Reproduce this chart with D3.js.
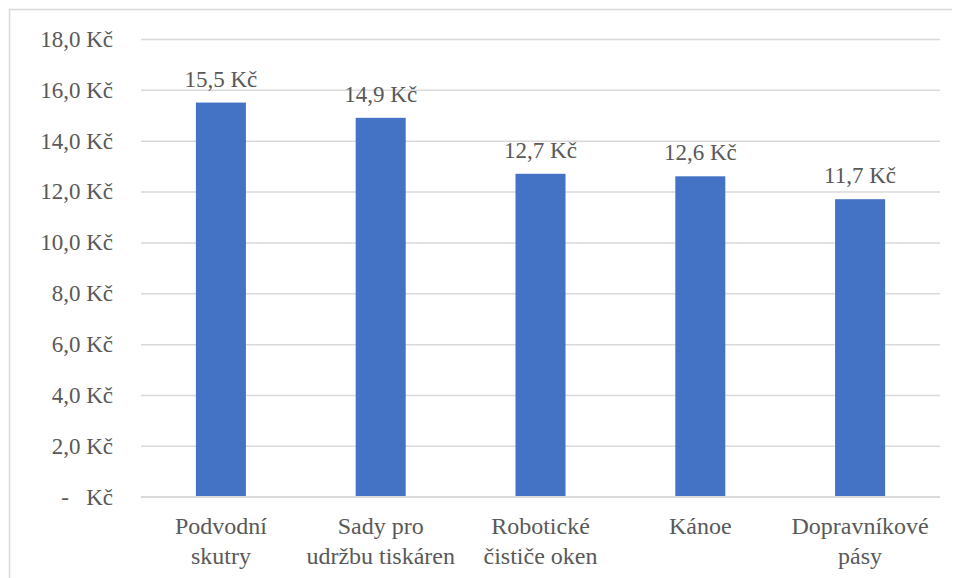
<!DOCTYPE html>
<html>
<head>
<meta charset="utf-8">
<style>
  html, body { margin: 0; padding: 0; background: #fff; }
  svg { display: block; }
  svg, svg text, svg tspan { font-family: 'Liberation Serif', 'Tinos', 'Times New Roman', serif !important; }
</style>
</head>
<body>
<svg id="chart" width="957" height="578" style="font-family:'Liberation Serif'"></svg>
<script src="https://cdn.jsdelivr.net/npm/d3@7"></script>
<script>
// Categories (each split into lines for the axis labels)
const categories = [
  ["Podvodní", "skutry"],
  ["Sady pro", "udržbu tiskáren"],
  ["Robotické", "čističe oken"],
  ["Kánoe"],
  ["Dopravníkové", "pásy"]
];
// Average price per category, in Kč
const values = [15.5, 14.9, 12.7, 12.6, 11.7];
// Y axis ticks
const yTicks = [0, 2, 4, 6, 8, 10, 12, 14, 16, 18];

const INK = "#595959";
const GRID = "#d9d9d9";
const SERIF = "font-family:'Liberation Serif'";

const svg = d3.select("#chart");
const W = 957, H = 578;
const margin = { left: 141, right: 17, top: 39, bottom: 81.3 };

// Chart area frame (top and left edges visible)
svg.append("path")
  .attr("d", `M9.5,${H} V9.5 H952`)
  .attr("fill", "none")
  .attr("stroke", GRID)
  .attr("stroke-width", 1.5);

const x = d3.scaleBand()
  .domain(d3.range(categories.length))
  .range([margin.left, W - margin.right])
  .paddingInner(0.687)
  .paddingOuter(0.3435);

const y = d3.scaleLinear()
  .domain([0, 18])
  .range([H - margin.bottom, margin.top]);

const fmt = v => v === 0 ? "-   Kč" : d3.format(".1f")(v).replace(".", ",") + " Kč";

// Gridlines and tick labels
const yAxis = d3.axisLeft(y)
  .tickValues(yTicks)
  .tickSize(-(W - margin.right - margin.left))
  .tickFormat(fmt)
  .tickPadding(28);

const gy = svg.append("g")
  .attr("transform", `translate(${margin.left},0)`)
  .call(yAxis);
gy.attr("font-family", null).attr("font-size", null);
gy.select(".domain").remove();
gy.selectAll(".tick line").attr("stroke", GRID).attr("stroke-width", 1.5);
gy.selectAll(".tick text")
  .attr("style", SERIF + ";font-size:23px;white-space:pre")
  .attr("fill", INK);

// Bars
svg.append("g").selectAll("rect")
  .data(values)
  .join("rect")
  .attr("x", (d, i) => x(i))
  .attr("width", x.bandwidth())
  .attr("y", d => y(d))
  .attr("height", d => y(0) - y(d))
  .attr("fill", "#4472c4");

// Value labels above bars
svg.append("g")
  .selectAll("text")
  .data(values)
  .join("text")
  .attr("x", (d, i) => x(i) + x.bandwidth() / 2)
  .attr("y", d => y(d) - 16)
  .attr("text-anchor", "middle")
  .attr("style", SERIF + ";font-size:23px")
  .attr("fill", INK)
  .text(d => fmt(d));

// Category labels
const xAxis = d3.axisBottom(x).tickSize(0).tickFormat("");
const gx = svg.append("g")
  .attr("transform", `translate(0,${y(0)})`)
  .call(xAxis);
gx.attr("font-family", null).attr("font-size", null);
gx.select(".domain").remove();
gx.selectAll(".tick").each(function(i) {
  const t = d3.select(this).append("text")
    .attr("text-anchor", "middle")
    .attr("style", SERIF + ";font-size:24px")
    .attr("fill", INK);
  categories[i].forEach((line, k) => {
    t.append("tspan").attr("x", 0).attr("y", 37.5 + k * 30).text(line);
  });
});

// Baseline along the bars' bottom edge
svg.append("line")
  .attr("x1", margin.left).attr("x2", W - margin.right)
  .attr("y1", y(0)).attr("y2", y(0))
  .attr("stroke", GRID).attr("stroke-width", 1.5);
</script>
</body>
</html>
